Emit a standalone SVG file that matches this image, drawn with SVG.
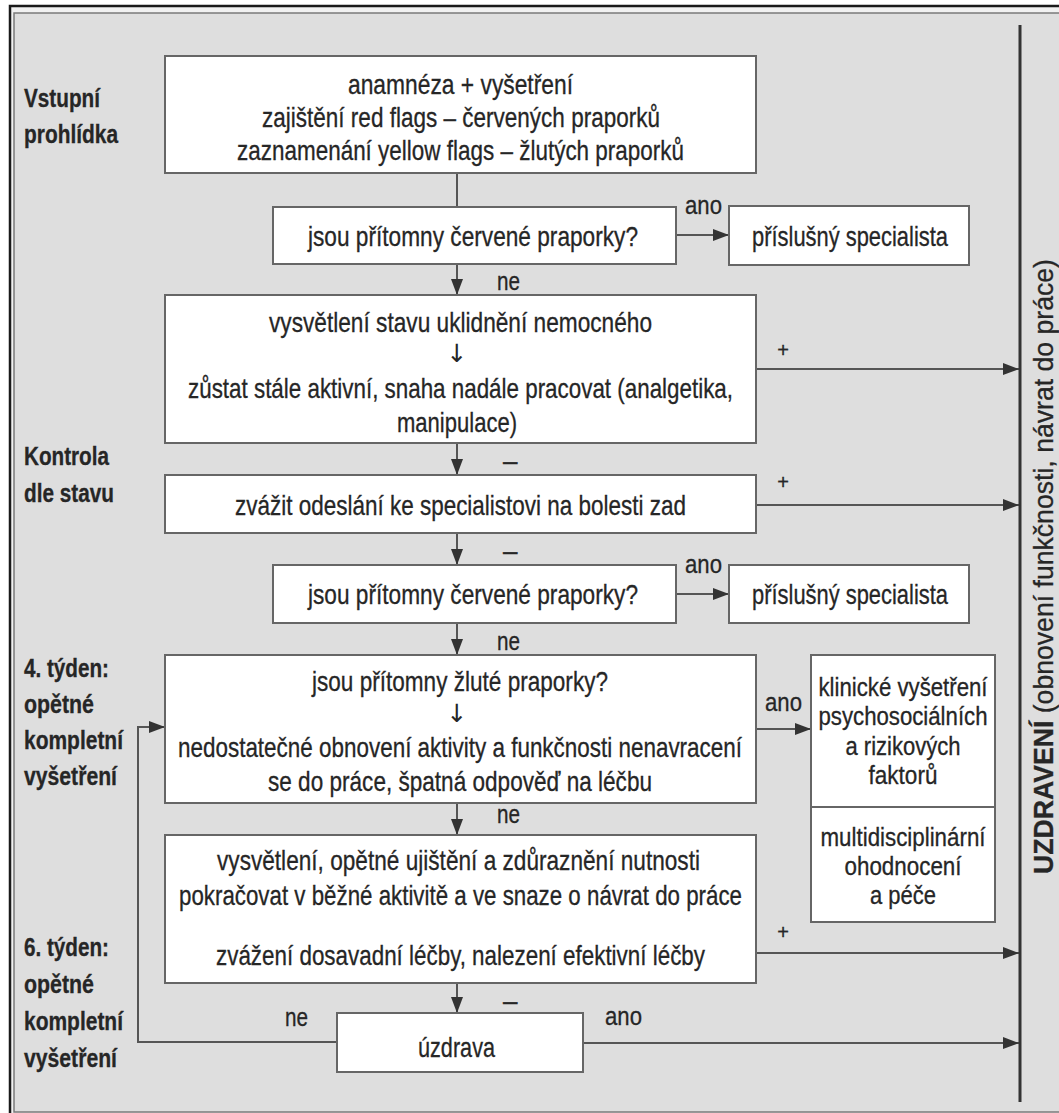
<svg xmlns="http://www.w3.org/2000/svg" width="1059" height="1113" viewBox="0 0 1059 1113">
<style>
.frame{fill:#f1f1f1;stroke:#1a1a1a;stroke-width:2.5}
.inner{fill:#dedede;stroke:#7a7a7a;stroke-width:1.5}
.box{fill:#ffffff;stroke:#666;stroke-width:2}
.c{fill:none;stroke:#555;stroke-width:2}
.bar{stroke:#333;stroke-width:3}
text{font-family:"Liberation Sans Narrow","Liberation Sans",Arial,sans-serif;fill:#262626;stroke:#262626;stroke-width:0.3px}
.t{font-size:28px;text-anchor:middle}
.r{font-size:25px;text-anchor:middle}
.lb{font-size:25px;font-weight:bold;text-anchor:start}
.s{font-size:26px;text-anchor:start}
.p{font-size:20px;text-anchor:middle}
.ar{font-family:"DejaVu Sans",sans-serif;font-size:25px;text-anchor:middle;stroke:none}
</style>
<defs>
<marker id="ah" markerUnits="userSpaceOnUse" markerWidth="16" markerHeight="12" refX="16" refY="6" orient="auto">
<path d="M0,0 L16,6 L0,12 Z" fill="#333"/>
</marker>
</defs>
<rect width="1059" height="1113" fill="#ffffff"/>
<rect class="frame" x="10" y="6" width="1070" height="1125"/>
<rect class="inner" x="14" y="13" width="1060" height="1099"/>

<g id="labels">
<text class="lb" x="24" y="107" textLength="76" lengthAdjust="spacingAndGlyphs">Vstupní</text>
<text class="lb" x="24" y="143" textLength="94" lengthAdjust="spacingAndGlyphs">prohlídka</text>
<text class="lb" x="24" y="465" textLength="85" lengthAdjust="spacingAndGlyphs">Kontrola</text>
<text class="lb" x="24" y="502" textLength="90" lengthAdjust="spacingAndGlyphs">dle stavu</text>
<text class="lb" x="24" y="677" textLength="85" lengthAdjust="spacingAndGlyphs">4. týden:</text>
<text class="lb" x="24" y="713" textLength="70" lengthAdjust="spacingAndGlyphs">opětné</text>
<text class="lb" x="24" y="749" textLength="99" lengthAdjust="spacingAndGlyphs">kompletní</text>
<text class="lb" x="24" y="785" textLength="93" lengthAdjust="spacingAndGlyphs">vyšetření</text>
<text class="lb" x="24" y="956" textLength="85" lengthAdjust="spacingAndGlyphs">6. týden:</text>
<text class="lb" x="24" y="993" textLength="70" lengthAdjust="spacingAndGlyphs">opětné</text>
<text class="lb" x="24" y="1030" textLength="99" lengthAdjust="spacingAndGlyphs">kompletní</text>
<text class="lb" x="24" y="1067" textLength="93" lengthAdjust="spacingAndGlyphs">vyšetření</text>
</g>

<g id="connectors">
<line class="c" x1="457" y1="173" x2="457" y2="207"/>
<line class="c" x1="457" y1="264" x2="457" y2="295" marker-end="url(#ah)"/>
<line class="c" x1="457" y1="443" x2="457" y2="475" marker-end="url(#ah)"/>
<line class="c" x1="457" y1="533" x2="457" y2="565" marker-end="url(#ah)"/>
<line class="c" x1="457" y1="623" x2="457" y2="655" marker-end="url(#ah)"/>
<line class="c" x1="457" y1="803" x2="457" y2="835" marker-end="url(#ah)"/>
<line class="c" x1="457" y1="983" x2="457" y2="1013" marker-end="url(#ah)"/>
<line class="c" x1="676" y1="235" x2="729" y2="235" marker-end="url(#ah)"/>
<line class="c" x1="676" y1="594" x2="729" y2="594" marker-end="url(#ah)"/>
<line class="c" x1="756" y1="369" x2="1019" y2="369" marker-end="url(#ah)"/>
<line class="c" x1="756" y1="505" x2="1019" y2="505" marker-end="url(#ah)"/>
<line class="c" x1="756" y1="729" x2="811" y2="729" marker-end="url(#ah)"/>
<line class="c" x1="756" y1="953" x2="1019" y2="953" marker-end="url(#ah)"/>
<line class="c" x1="583" y1="1043" x2="1019" y2="1043" marker-end="url(#ah)"/>
<polyline class="c" points="337,1042 138,1042 138,727 165,727" marker-end="url(#ah)"/>
<line class="bar" x1="1020" y1="25" x2="1020" y2="1102"/>
<text class="s" x="685" y="214" textLength="37" lengthAdjust="spacingAndGlyphs">ano</text>
<text class="s" x="497" y="290" textLength="23" lengthAdjust="spacingAndGlyphs">ne</text>
<text class="p" x="783" y="357">+</text>
<text class="s" x="503" y="470">–</text>
<text class="p" x="783" y="489">+</text>
<text class="s" x="503" y="560">–</text>
<text class="s" x="685" y="573" textLength="37" lengthAdjust="spacingAndGlyphs">ano</text>
<text class="s" x="497" y="650" textLength="23" lengthAdjust="spacingAndGlyphs">ne</text>
<text class="s" x="765" y="711" textLength="37" lengthAdjust="spacingAndGlyphs">ano</text>
<text class="s" x="497" y="823" textLength="23" lengthAdjust="spacingAndGlyphs">ne</text>
<text class="p" x="783" y="939">+</text>
<text class="s" x="503" y="1010">–</text>
<text class="s" x="285" y="1026" textLength="23" lengthAdjust="spacingAndGlyphs">ne</text>
<text class="s" x="605" y="1025" textLength="37" lengthAdjust="spacingAndGlyphs">ano</text>
</g>

<g id="n1">
<rect class="box" x="165" y="56" width="591" height="117"/>
<text class="t" x="460.5" y="94" textLength="225" lengthAdjust="spacingAndGlyphs">anamnéza + vyšetření</text>
<text class="t" x="461" y="127" textLength="398" lengthAdjust="spacingAndGlyphs">zajištění red flags – červených praporků</text>
<text class="t" x="460.5" y="160" textLength="447" lengthAdjust="spacingAndGlyphs">zaznamenání yellow flags – žlutých praporků</text>
</g>
<g id="n2">
<rect class="box" x="273" y="207" width="403" height="57"/>
<text class="t" x="473" y="246" textLength="330" lengthAdjust="spacingAndGlyphs">jsou přítomny červené praporky?</text>
</g>
<g id="n3">
<rect class="box" x="729" y="206" width="240" height="59"/>
<text class="t" x="850" y="246" textLength="196" lengthAdjust="spacingAndGlyphs">příslušný specialista</text>
</g>
<g id="n4">
<rect class="box" x="165" y="295" width="591" height="148"/>
<text class="t" x="460.5" y="332" textLength="383" lengthAdjust="spacingAndGlyphs">vysvětlení stavu uklidnění nemocného</text>
<text class="ar" x="457" y="362">↓</text>
<text class="t" x="460.5" y="398" textLength="545" lengthAdjust="spacingAndGlyphs">zůstat stále aktivní, snaha nadále pracovat (analgetika,</text>
<text class="t" x="457" y="432" textLength="120" lengthAdjust="spacingAndGlyphs">manipulace)</text>
</g>
<g id="n5">
<rect class="box" x="165" y="475" width="591" height="58"/>
<text class="t" x="460.5" y="515" textLength="451" lengthAdjust="spacingAndGlyphs">zvážit odeslání ke specialistovi na bolesti zad</text>
</g>
<g id="n6">
<rect class="box" x="273" y="565" width="403" height="58"/>
<text class="t" x="473" y="604" textLength="330" lengthAdjust="spacingAndGlyphs">jsou přítomny červené praporky?</text>
</g>
<g id="n7">
<rect class="box" x="729" y="565" width="240" height="58"/>
<text class="t" x="850" y="604" textLength="196" lengthAdjust="spacingAndGlyphs">příslušný specialista</text>
</g>
<g id="n8">
<rect class="box" x="165" y="655" width="591" height="148"/>
<text class="t" x="460" y="691" textLength="296" lengthAdjust="spacingAndGlyphs">jsou přítomny žluté praporky?</text>
<text class="ar" x="457" y="722">↓</text>
<text class="t" x="460" y="757" textLength="564" lengthAdjust="spacingAndGlyphs">nedostatečné obnovení aktivity a funkčnosti nenavracení</text>
<text class="t" x="460" y="791" textLength="384" lengthAdjust="spacingAndGlyphs">se do práce, špatná odpověď na léčbu</text>
</g>
<g id="n9">
<rect class="box" x="811" y="655" width="184" height="267"/>
<line class="box" x1="811" y1="807" x2="995" y2="807"/>
<text class="r" x="903" y="696" textLength="169" lengthAdjust="spacingAndGlyphs">klinické vyšetření</text>
<text class="r" x="903" y="725" textLength="169" lengthAdjust="spacingAndGlyphs">psychosociálních</text>
<text class="r" x="903" y="755" textLength="115" lengthAdjust="spacingAndGlyphs">a rizikových</text>
<text class="r" x="903" y="784" textLength="69" lengthAdjust="spacingAndGlyphs">faktorů</text>
<text class="r" x="903" y="846" textLength="165" lengthAdjust="spacingAndGlyphs">multidisciplinární</text>
<text class="r" x="903" y="875" textLength="117" lengthAdjust="spacingAndGlyphs">ohodnocení</text>
<text class="r" x="903" y="904" textLength="66" lengthAdjust="spacingAndGlyphs">a péče</text>
</g>
<g id="n10">
<rect class="box" x="165" y="835" width="591" height="148"/>
<text class="t" x="458.5" y="870" textLength="483" lengthAdjust="spacingAndGlyphs">vysvětlení, opětné ujištění a zdůraznění nutnosti</text>
<text class="t" x="460.5" y="905" textLength="563" lengthAdjust="spacingAndGlyphs">pokračovat v běžné aktivitě a ve snaze o návrat do práce</text>
<text class="t" x="460.5" y="965" textLength="489" lengthAdjust="spacingAndGlyphs">zvážení dosavadní léčby, nalezení efektivní léčby</text>
</g>
<g id="n11">
<rect class="box" x="337" y="1013" width="246" height="59"/>
<text class="t" x="456.5" y="1057" textLength="77" lengthAdjust="spacingAndGlyphs">úzdrava</text>
</g>
<g id="n12">
<text transform="translate(1053,874) rotate(-90)" x="0" y="0" style="font-size:27px" textLength="615" lengthAdjust="spacingAndGlyphs"><tspan font-weight="bold">UZDRAVENÍ</tspan> (obnovení funkčnosti, návrat do práce)</text>
</g>
</svg>
